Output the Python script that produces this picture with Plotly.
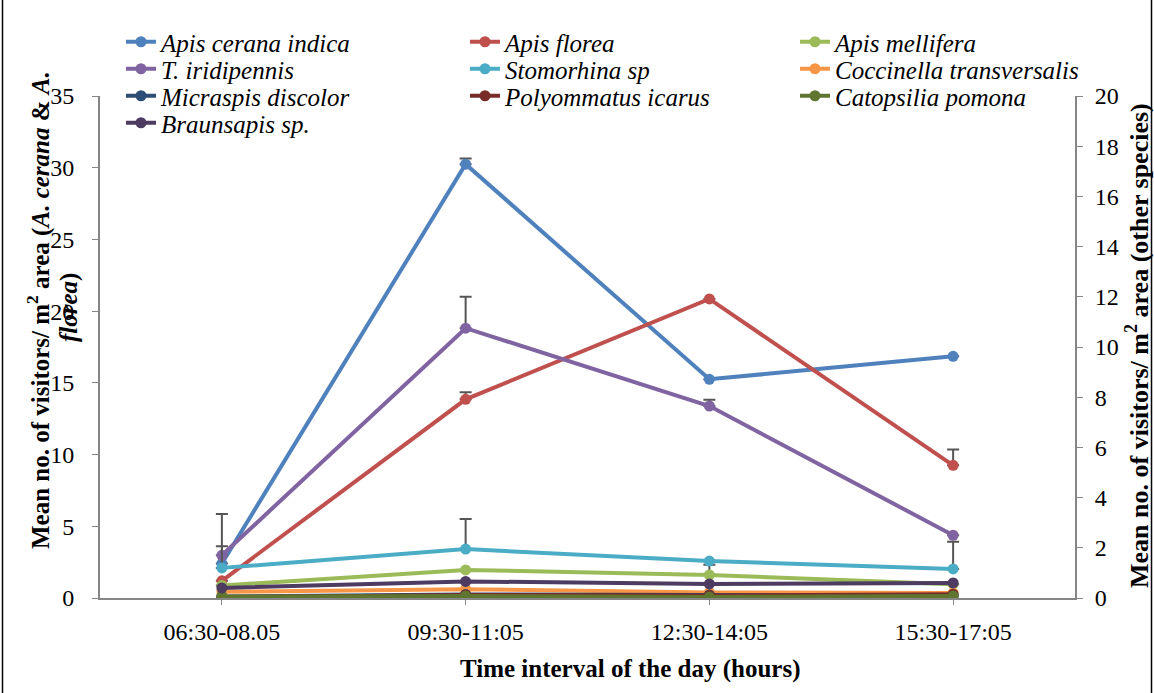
import plotly.graph_objects as go

times = ["06:30-08.05", "09:30-11:05", "12:30-14:05", "15:30-17:05"]

# Left axis species (A. cerana & A. florea)
cerana = [2.4, 30.25, 15.25, 16.85]
cerana_err = [1.2, 0.4, 0.0, 0.0]
florea = [1.2, 13.85, 20.85, 9.25]
florea_err = [0.0, 0.5, 0.0, 1.1]

# Right axis species (other species)
mellifera = [0.5, 1.12, 0.92, 0.55]
mellifera_err = [0.0, 0.0, 0.4, 0.0]
iridipennis = [1.7, 10.75, 7.65, 2.5]
iridipennis_err = [0.0, 1.25, 0.25, 0.0]
stomorhina = [1.2, 1.95, 1.47, 1.16]
stomorhina_err = [2.15, 1.2, 0.0, 1.08]
coccinella = [0.25, 0.35, 0.22, 0.2]
micraspis = [0.06, 0.14, 0.12, 0.08]
polyommatus = [0.03, 0.12, 0.1, 0.15]
catopsilia = [0.06, 0.08, 0.04, 0.08]
braunsapis = [0.4, 0.66, 0.56, 0.6]

SERIF = "Liberation Serif"

L, R, T, B = 100, 79, 96, 95
W, H = 1154, 693
pw, ph = W - L - R, H - T - B


def px(x):
    return (x - L) / pw


def py(y):
    return (H - B - y) / ph


# legend grid (pixel positions of legend box left / row centre)
col_x = [121, 465, 795]
row_y = [42, 69, 96, 123]

fig = go.Figure()
legend_layout = {}
counter = [0]


def add(name, vals, color, yaxis, col, row, err=None):
    counter[0] += 1
    key = "legend" if counter[0] == 1 else "legend%d" % counter[0]
    legend_layout[key] = dict(
        x=px(col_x[col]), y=py(row_y[row]), xanchor="left", yanchor="middle",
        font=dict(family=SERIF, size=25, color="#000000"),
        bgcolor="rgba(0,0,0,0)", itemwidth=30, itemclick=False,
        itemdoubleclick=False)
    kw = {}
    if err is not None:
        kw["error_y"] = dict(type="data", symmetric=False, array=err,
                             arrayminus=[0] * len(err), color="#555555",
                             thickness=2, width=6)
    fig.add_trace(go.Scatter(
        x=times, y=vals, name="<i>%s</i>" % name, mode="lines+markers",
        line=dict(color=color, width=4),
        marker=dict(color=color, size=11),
        yaxis=yaxis, legend=key, **kw))


add("Apis cerana indica", cerana, "#4F81BD", "y", 0, 0, cerana_err)
add("Apis florea", florea, "#C0504D", "y", 1, 0, florea_err)
add("Apis mellifera", mellifera, "#9BBB59", "y2", 2, 0, mellifera_err)
add("T. iridipennis", iridipennis, "#8064A2", "y2", 0, 1, iridipennis_err)
add("Stomorhina sp", stomorhina, "#4BACC6", "y2", 1, 1, stomorhina_err)
add("Coccinella transversalis", coccinella, "#F79646", "y2", 2, 1)
add("Micraspis discolor", micraspis, "#2C4D75", "y2", 0, 2)
add("Polyommatus icarus", polyommatus, "#772C2A", "y2", 1, 2)
add("Catopsilia pomona", catopsilia, "#5F7530", "y2", 2, 2)
add("Braunsapis sp.", braunsapis, "#4D3B62", "y2", 0, 3)

fig.update_layout(
    width=W, height=H,
    margin=dict(l=L, r=R, t=T, b=B, autoexpand=False),
    paper_bgcolor="white", plot_bgcolor="white",
    font=dict(family=SERIF, color="#000000"),
    showlegend=True,
    xaxis=dict(type="category", range=[-0.5, 3.5], showgrid=False,
               showline=True, linecolor="#868686", linewidth=2,
               ticks="outside", ticklen=5, tickcolor="#868686",
               tickfont=dict(family=SERIF, size=24, color="#000000"),
               ticklabelstandoff=6, zeroline=False),
    yaxis=dict(range=[0, 35], dtick=5, showgrid=False, zeroline=False,
               showline=True, linecolor="#868686", linewidth=2,
               ticks="outside", ticklen=6, tickcolor="#868686",
               tickfont=dict(family=SERIF, size=24, color="#000000"),
               ticklabelstandoff=13),
    yaxis2=dict(range=[0, 20], dtick=2, overlaying="y", side="right",
                showgrid=False, zeroline=False,
                showline=True, linecolor="#868686", linewidth=2,
                ticks="outside", ticklen=6, tickcolor="#868686",
                tickfont=dict(family=SERIF, size=24, color="#000000"),
                ticklabelstandoff=7),
    **legend_layout,
)

fig.add_annotation(text="<b>Mean no. of visitors/ m<sup>2</sup> area (<i>A. cerana</i> &amp; <i>A.</i></b>",
                   xref="paper", yref="paper", x=px(38), y=py(310), textangle=-90,
                   showarrow=False, font=dict(family=SERIF, size=25, color="#000000"),
                   xanchor="center", yanchor="middle")
fig.add_annotation(text="<b><i>florea</i>)</b>",
                   xref="paper", yref="paper", x=px(69), y=py(308), textangle=-90,
                   showarrow=False, font=dict(family=SERIF, size=25, color="#000000"),
                   xanchor="center", yanchor="middle")
fig.add_annotation(text="<b>Mean no. of visitors/ m<sup>2</sup> area (other species)</b>",
                   xref="paper", yref="paper", x=px(1137), y=py(346), textangle=-90,
                   showarrow=False, font=dict(family=SERIF, size=26, color="#000000"),
                   xanchor="center", yanchor="middle")
fig.add_annotation(text="<b>Time interval of the day (hours)</b>",
                   xref="paper", yref="paper", x=px(630), y=py(669),
                   showarrow=False, font=dict(family=SERIF, size=25, color="#000000"),
                   xanchor="center", yanchor="middle")

# outer frame lines (left and right)
for xv in (2.5, 1151.5):
    fig.add_shape(type="line", xref="paper", yref="paper",
                  x0=px(xv), x1=px(xv), y0=py(0), y1=py(H),
                  line=dict(color="#000000", width=1.5))

fig.write_html("out.html", config={"displayModeBar": False},
               post_script="document.body.style.margin='0';document.body.style.padding='0';")
